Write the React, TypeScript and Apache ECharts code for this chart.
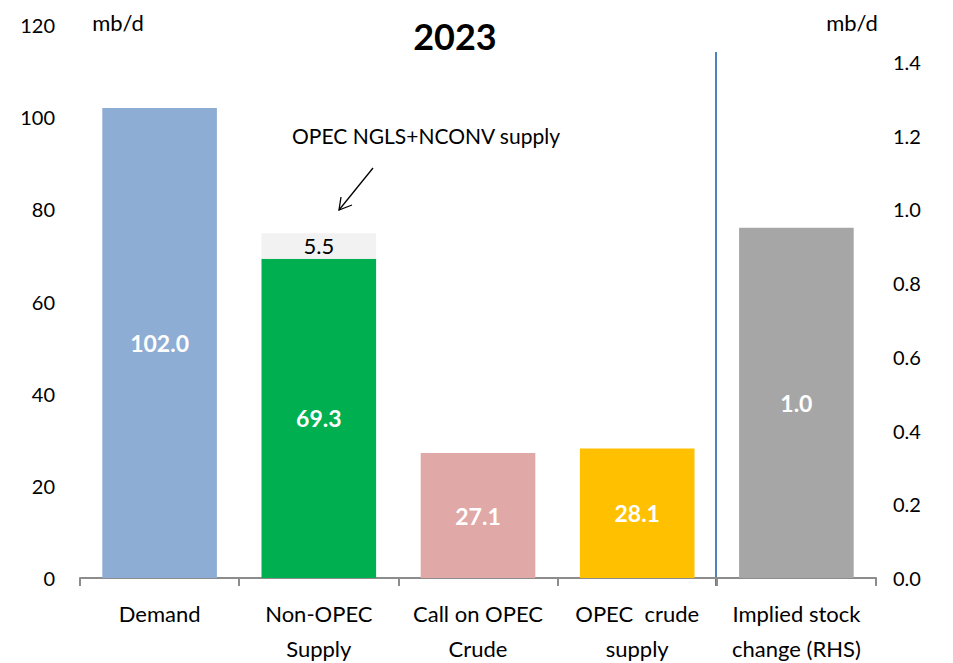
import React, { useEffect, useRef } from "react";
import * as echarts from "echarts";

const categories = ["Demand", "Non-OPEC\nSupply", "Call on OPEC\nCrude", "OPEC  crude\nsupply", "Implied stock\nchange (RHS)"];
const mainValues: (number | string)[] = [102.0, 69.3, 27.1, 28.1, "-"];
const nglValues: (number | string)[] = ["-", 5.5, "-", "-", "-"];
const stockValues: (number | string)[] = ["-", "-", "-", "-", 0.95];
const barColors = ["#8EADD5", "#00B050", "#E0A8A7", "#FFC000", "#A6A6A6"];
const leftTicks = { min: 0, max: 120, interval: 20 };
const rightTicks = { min: 0, max: 1.5, interval: 0.2 };
const title = "2023";
const unit = "mb/d";
const annotation = "OPEC NGLS+NCONV supply";

const FONT = "Lato, 'Liberation Sans', sans-serif";

export default function App() {
  const ref = useRef<HTMLDivElement>(null);
  useEffect(() => {
    if (!ref.current) return;
    const chart = echarts.init(ref.current, null, { renderer: "svg" });
    const valueLabel = {
      show: true,
      position: "inside",
      color: "#ffffff",
      fontWeight: "bold",
      fontSize: 23,
      fontFamily: FONT,
    };
    chart.setOption({
      animation: false,
      backgroundColor: "#ffffff",
      textStyle: { fontFamily: FONT },
      grid: { left: 80, right: 77, top: 25, bottom: 85, containLabel: false, outerBoundsMode: "none" },
      xAxis: {
        type: "category",
        data: categories,
        axisLine: { lineStyle: { color: "#8c8c8c", width: 2 } },
        axisTick: { show: true, length: 8, lineStyle: { color: "#8c8c8c", width: 2 } },
        axisLabel: { color: "#000", fontSize: 22, lineHeight: 35, margin: 18, fontFamily: FONT, interval: 0 },
      },
      yAxis: [
        {
          type: "value",
          min: leftTicks.min,
          max: leftTicks.max,
          interval: leftTicks.interval,
          axisLine: { show: false },
          axisTick: { show: false },
          splitLine: { show: false },
          axisLabel: { color: "#000", fontSize: 20, margin: 25, fontFamily: FONT },
        },
        {
          type: "value",
          position: "right",
          min: rightTicks.min,
          max: rightTicks.max,
          interval: rightTicks.interval,
          axisLine: { show: false },
          axisTick: { show: false },
          splitLine: { show: false },
          axisLabel: {
            color: "#000",
            fontSize: 20,
            margin: 17,
            fontFamily: FONT,
            showMaxLabel: false,
            formatter: (v: number) => v.toFixed(1),
          },
        },
      ],
      series: [
        {
          name: "main",
          type: "bar",
          stack: "a",
          yAxisIndex: 0,
          barWidth: "72%",
          barGap: "-100%",
          data: mainValues.map((v, i) => ({ value: v, itemStyle: { color: barColors[i] } })),
          label: { ...valueLabel, formatter: (p: any) => Number(p.value).toFixed(1) },
        },
        {
          name: "ngl",
          type: "bar",
          stack: "a",
          yAxisIndex: 0,
          barWidth: "72%",
          barGap: "-100%",
          itemStyle: { color: "#F2F2F2" },
          data: nglValues,
          label: {
            show: true,
            position: "inside",
            color: "#000",
            fontSize: 22,
            fontFamily: FONT,
            formatter: (p: any) => Number(p.value).toFixed(1),
          },
        },
        {
          name: "stock",
          type: "bar",
          yAxisIndex: 1,
          barWidth: "72%",
          barGap: "-100%",
          itemStyle: { color: barColors[4] },
          data: stockValues,
          label: { ...valueLabel, formatter: (p: any) => (Math.round(Number(p.value) * 10) / 10).toFixed(1) },
        },
      ],
      graphic: [
        {
          type: "text",
          x: 455,
          y: 36,
          style: { text: title, fontSize: 36, fontWeight: "bold", fill: "#000", align: "center", verticalAlign: "middle", fontFamily: FONT },
        },
        {
          type: "text",
          x: 118,
          y: 22,
          style: { text: unit, fontSize: 22, fill: "#000", align: "center", verticalAlign: "middle", fontFamily: FONT },
        },
        {
          type: "text",
          x: 852,
          y: 22,
          style: { text: unit, fontSize: 22, fill: "#000", align: "center", verticalAlign: "middle", fontFamily: FONT },
        },
        {
          type: "text",
          x: 426,
          y: 135,
          style: { text: annotation, fontSize: 21, fill: "#000", align: "center", verticalAlign: "middle", fontFamily: FONT },
        },
        {
          type: "line",
          shape: { x1: 373, y1: 168, x2: 339, y2: 210 },
          style: { stroke: "#000", lineWidth: 1.3 },
        },
        {
          type: "polyline",
          shape: { points: [[341, 197], [339, 210], [352, 205]] },
          style: { stroke: "#000", lineWidth: 1.3, fill: null },
        },
        {
          type: "line",
          shape: { x1: 716, y1: 52, x2: 716, y2: 586 },
          style: { stroke: "#4F81BD", lineWidth: 2 },
        },
      ],
    });
    return () => chart.dispose();
  }, []);
  return <div ref={ref} style={{ position: "fixed", left: 0, top: 0, width: 953, height: 663 }} />;
}
